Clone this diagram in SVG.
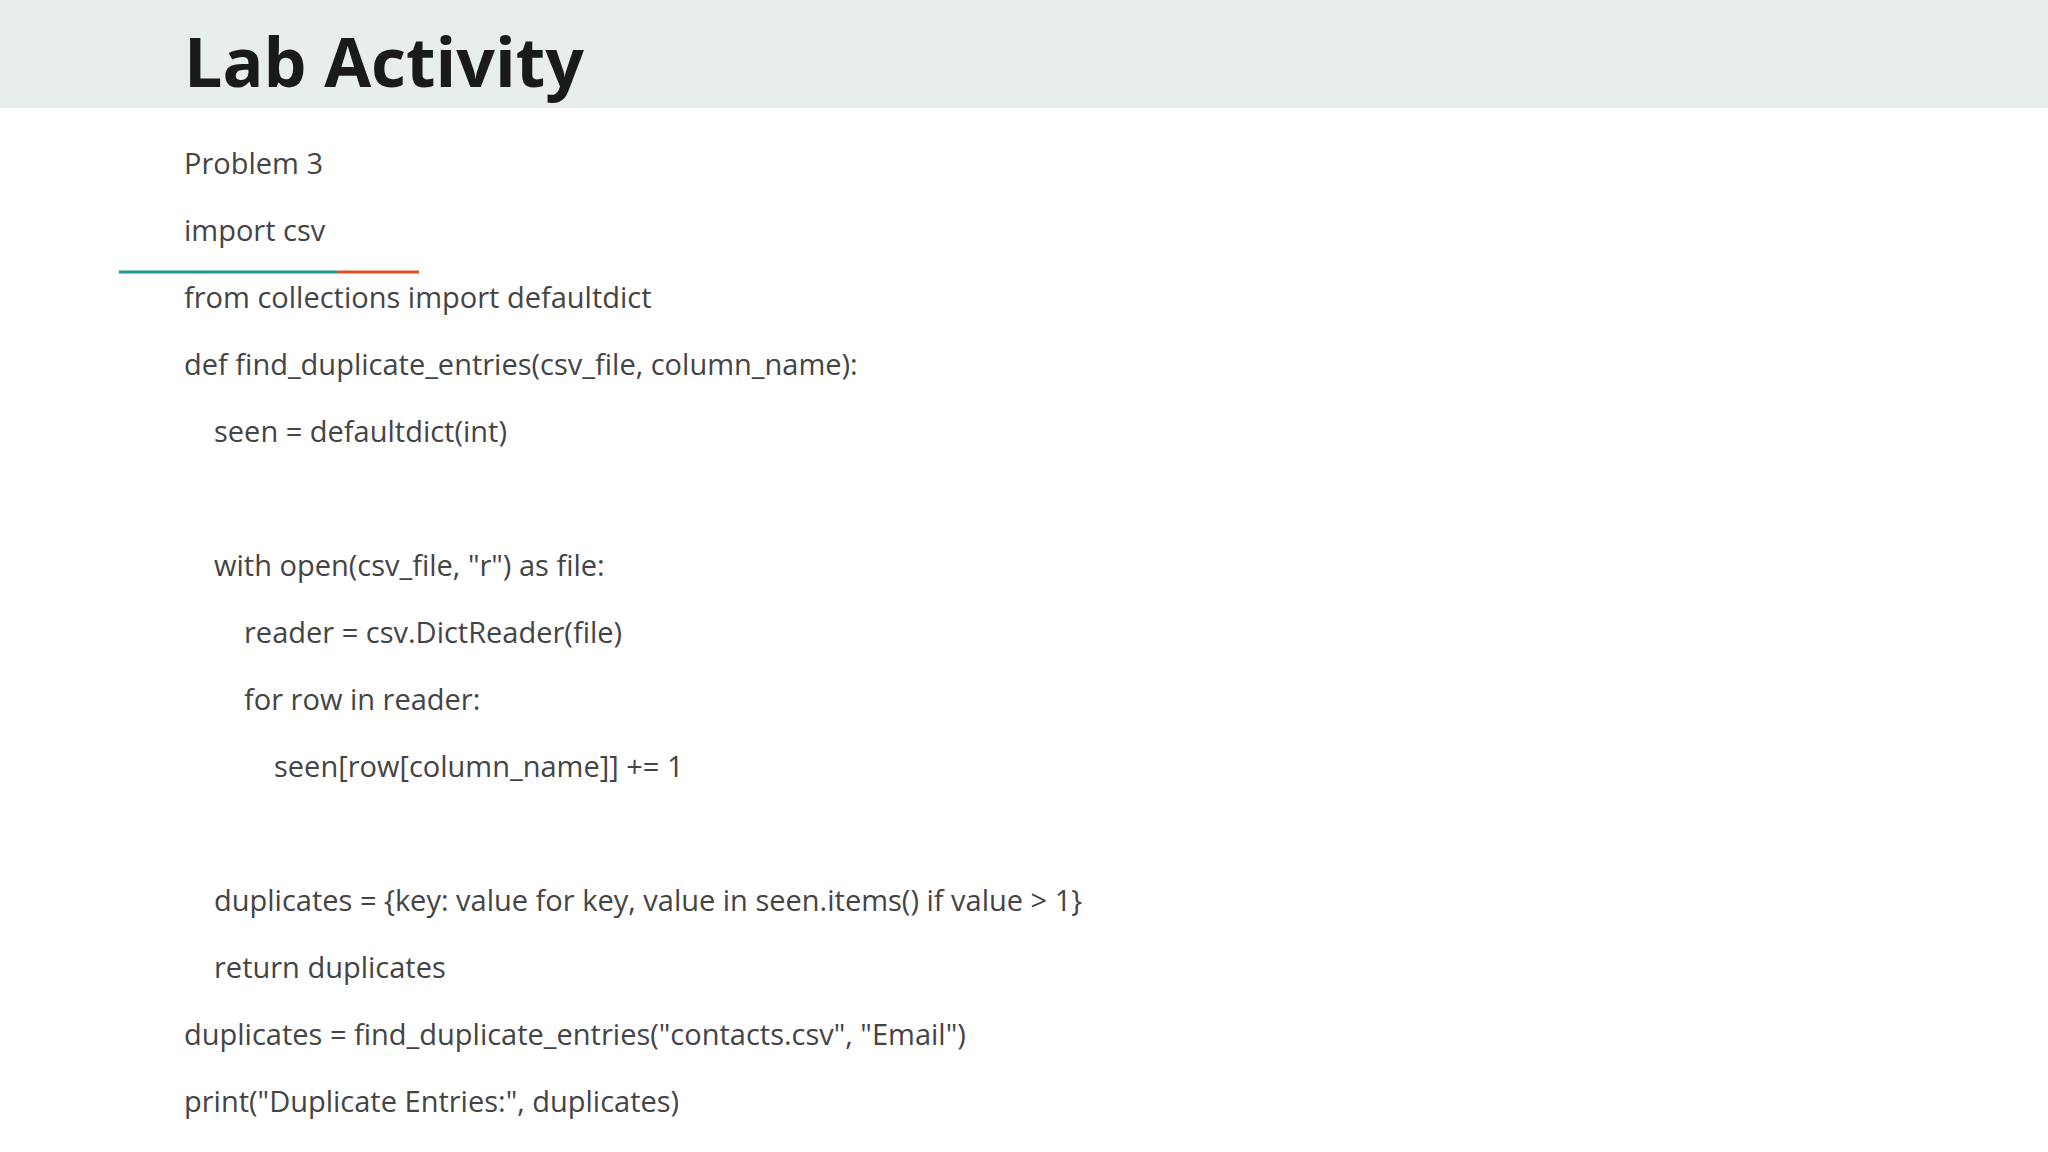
<svg xmlns="http://www.w3.org/2000/svg" width="2048" height="1152" viewBox="0 0 2048 1152">
<style>
.t{font-family:"Open Sans","Noto Sans",sans-serif;font-size:29px;fill:#444}
</style>
<rect width="2048" height="1152" fill="#fff"/>
<rect width="2048" height="108" fill="#e8eded"/>
<text x="184" y="87" style="font-family:'Open Sans','Noto Sans',sans-serif;font-size:68px;font-weight:bold;fill:#1a1a1a">Lab Activity</text>
<line x1="119" y1="272" x2="337" y2="272" stroke="#1a9a8a" stroke-width="3"/>
<line x1="337" y1="272" x2="419" y2="272" stroke="#e0521c" stroke-width="3"/>
<g id="code">
<text class="t" x="184" y="174">Problem 3</text>
<text class="t" x="184" y="241">import csv</text>
<text class="t" x="184" y="308">from collections import defaultdict</text>
<text class="t" x="184" y="375">def find_duplicate_entries(csv_file, column_name):</text>
<text class="t" x="214" y="442">seen = defaultdict(int)</text>
<text class="t" x="214" y="576">with open(csv_file, "r") as file:</text>
<text class="t" x="244" y="643">reader = csv.DictReader(file)</text>
<text class="t" x="244" y="710">for row in reader:</text>
<text class="t" x="274" y="777">seen[row[column_name]] += 1</text>
<text class="t" x="214" y="911">duplicates = {key: value for key, value in seen.items() if value &gt; 1}</text>
<text class="t" x="214" y="978">return duplicates</text>
<text class="t" x="184" y="1045">duplicates = find_duplicate_entries("contacts.csv", "Email")</text>
<text class="t" x="184" y="1112">print("Duplicate Entries:", duplicates)</text>
</g>
</svg>
